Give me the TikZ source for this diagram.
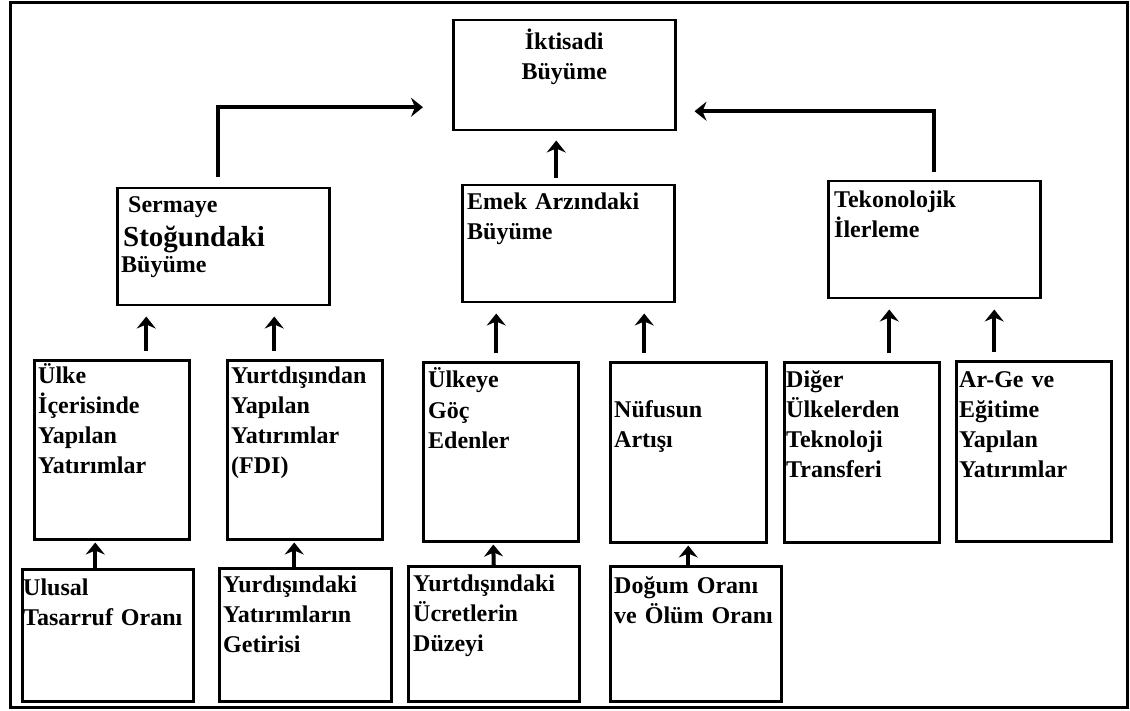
\documentclass[tikz,border=0pt]{standalone}
\usepackage{fontspec}
\setmainfont{Liberation Serif}
\usetikzlibrary{arrows.meta}
\tikzset{
    box/.style 2 args = {draw,line width=2.5pt,anchor=north west,inner sep=0,minimum width=#1pt,minimum height=#2pt},
    txt/.style = {anchor=base west,inner sep=0,align=left,text width=200pt,font=\fontsize{24}{30}\selectfont\bfseries},
    ctxt/.style = {anchor=base,inner sep=0,align=center,text width=222pt,font=\fontsize{24}{30}\selectfont\bfseries},
    arr/.style = {line width=4pt,-{Stealth[length=12pt,width=19pt,inset=4pt]}}
}

\begin{document}
\begin{tikzpicture}[x=1pt,y=-1pt]
        \useasboundingbox (0,0) rectangle (1130,711);
        \draw[line width=3pt] (10,3) rectangle (1127,707);
        % Growth
        \node[box={222}{110}] (top) at (452,19) {};
        % Sources of growth
        \node[box={212}{117}] (serm) at (116,187) {};
        \node[box={212}{117}] (emek) at (461,184) {};
        \node[box={212}{117}] (tek) at (827,180) {};
        % Factors
        \node[box={155}{179}] (u1) at (33,359) {};
        \node[box={155}{179}] (u2) at (226,359) {};
        \node[box={155}{179}] (u3) at (422,361) {};
        \node[box={156}{180}] (u4) at (609,361) {};
        \node[box={155}{180}] (u5) at (783,361) {};
        \node[box={155}{180}] (u6) at (955,360) {};
        % Determinants
        \node[box={171}{132}] (d1) at (21,568) {};
        \node[box={172}{133}] (d2) at (218,567) {};
        \node[box={171}{135}] (d3) at (407,565) {};
        \node[box={171}{135}] (d4) at (609,565) {};
        % Labels
        \node[ctxt] (topt) at ([shift={(0,31)}]top.north) {İktisadi\\Büyüme};
        \node[txt] (sermt) at ([shift={(5,26)}]serm.north west)
            {\hspace*{7pt}Sermaye\\[4pt]{\fontsize{29}{34}\selectfont\hspace*{2pt}Stoğundaki}\\[-4pt]Büyüme};
        \node[txt] (emekt) at ([shift={(6,26)}]emek.north west) {Emek Arzındaki\\Büyüme};
        \node[txt] (tekt) at ([shift={(7,28)}]tek.north west) {Tekonolojik\\İlerleme};
        \node[txt] (u1t) at ([shift={(5,24)}]u1.north west) {Ülke\\İçerisinde\\Yapılan\\Yatırımlar};
        \node[txt] (u2t) at ([shift={(5,24)}]u2.north west) {Yurtdışından\\Yapılan\\Yatırımlar\\(FDI)};
        \node[txt] (u3t) at ([shift={(6,27)}]u3.north west) {Ülkeye\\Göç\\Edenler};
        \node[txt] (u4t) at ([shift={(5,56)}]u4.north west) {Nüfusun\\Artışı};
        \node[txt] (u5t) at ([shift={(3,26)}]u5.north west) {Diğer\\Ülkelerden\\Teknoloji\\Transferi};
        \node[txt] (u6t) at ([shift={(4,27)}]u6.north west) {Ar-Ge ve\\Eğitime\\Yapılan\\Yatırımlar};
        \node[txt] (d1t) at ([shift={(2,27)}]d1.north west) {Ulusal\\Tasarruf Oranı};
        \node[txt] (d2t) at ([shift={(5,25)}]d2.north west) {Yurdışındaki\\Yatırımların\\Getirisi};
        \node[txt] (d3t) at ([shift={(6,26)}]d3.north west) {Yurtdışındaki\\Ücretlerin\\Düzeyi};
        \node[txt] (d4t) at ([shift={(5,28)}]d4.north west) {Doğum Oranı\\ve Ölüm Oranı};
        % Into growth
        \draw[arr] ([shift={(-5,-10)}]serm.north) |- ([shift={(-29,32)}]top.west);
        \draw[arr] ([shift={(0,-8)}]tek.north) |- ([shift={(18,36)}]top.east);
        \draw[arr] ([shift={(-12,-6)}]emek.north) -- ([shift={(-8,9)}]top.south);
        % Factors to sources
        \foreach \src/\a/\dest/\b in {u1/34.5/serm/-77,u2/-30.5/serm/51,u3/-4.5/emek/-72,
                                      u4/-44/emek/76,u5/27.5/tek/-45,u6/-39.5/tek/60}
            \draw[arr] ([shift={(\a,-8)}]\src.north) -- ([shift={(\b,10)}]\dest.south);
        % Determinants to factors
        \foreach \src/\a/\dest/\b in {d1/-12.5/u1/-16.5,d2/-11/u2/-10.5,d3/0/u3/-7.5,d4/-7.5/u4/0}
            \draw[arr] ([xshift=\a]\src.north) -- ([shift={(\b,2)}]\dest.south);
    \end{tikzpicture}
\end{document}
